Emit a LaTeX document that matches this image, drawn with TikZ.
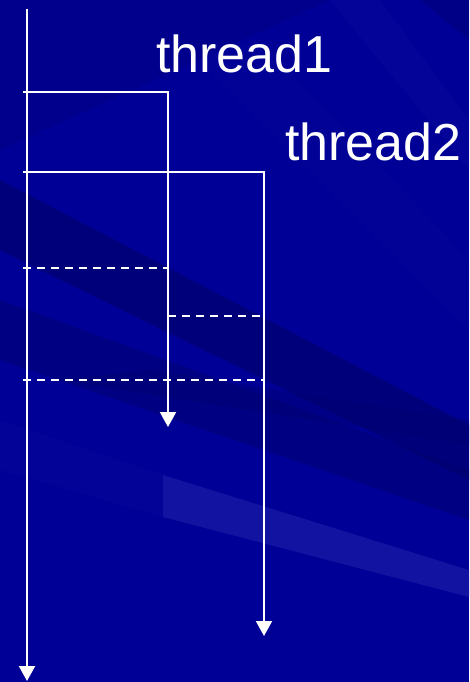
\documentclass[tikz,border=0pt]{standalone}
\usepackage{fontspec}
\setmainfont{Liberation Sans}
\usetikzlibrary{arrows.meta}

\definecolor{bgblue}{RGB}{0,0,150}
\definecolor{bgdark}{RGB}{0,0,112}
\definecolor{bglight}{RGB}{24,24,165}

\tikzset{
  flow/.style={draw=white, line width=2pt},
  flowarrow/.style={flow, -{Triangle[width=16pt,length=15pt]}},
  sync/.style={draw=white, line width=2pt, dash pattern=on 8pt off 6pt},
  label/.style={text=white, inner sep=0pt, anchor=base west,
                font=\fontsize{52}{60}\selectfont},
}

\begin{document}
\begin{tikzpicture}[x=1pt, y=-1pt]
  \useasboundingbox (0,0) rectangle (469,682);

  % slide background with diagonal shading bands
  \fill[bgblue] (0,0) rectangle (469,682);
  \fill[bgdark, opacity=0.25] (0,0) -- (330,0) -- (0,150) -- cycle;
  \fill[bgdark, opacity=0.7] (0,180) -- (0,250) -- (469,480) -- (469,425) -- cycle;
  \fill[bgdark, opacity=0.5] (0,300) -- (0,360) -- (469,520) -- (469,470) -- cycle;
  \fill[bgdark, opacity=0.4] (60,380) -- (469,445) -- (469,420) -- (150,370) -- cycle;
  \fill[bglight, opacity=0.8] (163,475) -- (163,517) -- (469,597) -- (469,570) -- cycle;
  \fill[bglight, opacity=0.15] (0,420) -- (0,470) -- (163,517) -- (163,475) -- cycle;
  \fill[bglight, opacity=0.2] (330,0) -- (469,170) -- (469,120) -- (380,0) -- cycle;
  \fill[bglight, opacity=0.12] (200,60) -- (469,330) -- (469,260) -- (260,40) -- cycle;
  \fill[bgdark, opacity=0.4] (420,0) -- (469,40) -- (469,0) -- cycle;

  % thread labels
  \node[label] (t1) at (156,73) {thread1};
  \node[label] (t2) at (285,160) {thread2};

  % reference points
  \coordinate (mtop) at (27,9);
  \coordinate (mend) at (27,681);
  \coordinate (f1) at (23,92);
  \coordinate (c1) at (168,92);
  \coordinate (e1) at (168,427);
  \coordinate (f2) at (23,172);
  \coordinate (c2) at (264,172);
  \coordinate (e2) at (264,636);
  \coordinate (s1a) at (23,268);
  \coordinate (s1b) at (168,268);
  \coordinate (s2a) at (168,316);
  \coordinate (s2b) at (262,316);
  \coordinate (s3a) at (23,380);
  \coordinate (s3b) at (264,380);

  % main thread
  \draw[flowarrow] (mtop) -- (mend);
  % forked threads
  \draw[flowarrow] (f1) -- (c1) -- (e1);
  \draw[flowarrow] (f2) -- (c2) -- (e2);
  % synchronisation points
  \draw[sync] (s1a) -- (s1b);
  \draw[sync] (s2a) -- (s2b);
  \draw[sync] (s3a) -- (s3b);
\end{tikzpicture}
\end{document}
